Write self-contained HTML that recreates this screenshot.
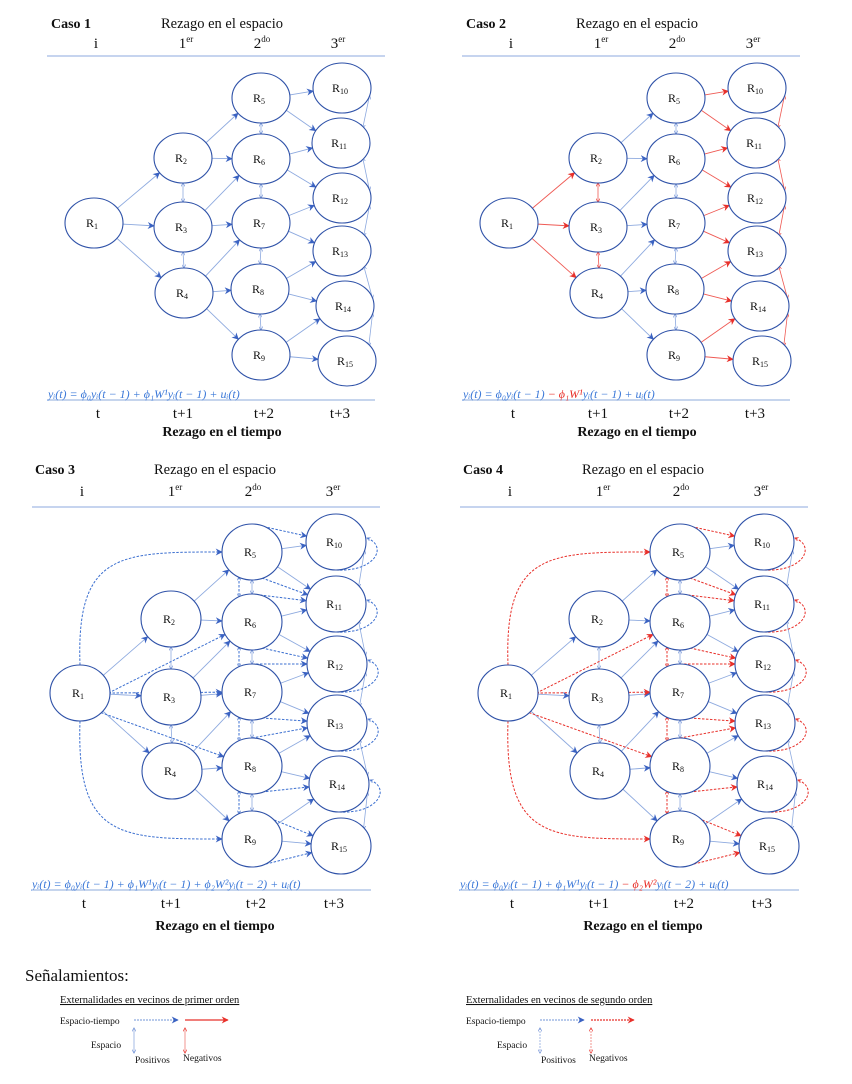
<!DOCTYPE html>
<html><head><meta charset="utf-8">
<style>
html,body{margin:0;padding:0;background:#fff;}
svg{display:block;font-family:"Liberation Serif",serif;}
</style></head>
<body>
<svg id="s" width="852" height="1084" viewBox="0 0 852 1084">
<defs>
<marker id="ab" viewBox="0 0 10 10" refX="9" refY="5" markerWidth="7" markerHeight="7" orient="auto-start-reverse" markerUnits="userSpaceOnUse"><path d="M0,0 L10,5 L0,10 L3,5 z" fill="#3a62c2"/></marker>
<marker id="ar" viewBox="0 0 10 10" refX="9" refY="5" markerWidth="7" markerHeight="7" orient="auto-start-reverse" markerUnits="userSpaceOnUse"><path d="M0,0 L10,5 L0,10 L3,5 z" fill="#e8302a"/></marker>
<marker id="abs" viewBox="0 0 10 10" refX="9" refY="5" markerWidth="4" markerHeight="4" orient="auto-start-reverse" markerUnits="userSpaceOnUse"><path d="M0,0 L10,5 L0,10" fill="none" stroke="#6f8fd6" stroke-width="1.5"/></marker>
<marker id="ars" viewBox="0 0 10 10" refX="9" refY="5" markerWidth="4" markerHeight="4" orient="auto-start-reverse" markerUnits="userSpaceOnUse"><path d="M0,0 L10,5 L0,10" fill="none" stroke="#e8302a" stroke-width="1.5"/></marker>
</defs>
<g id="root"></g>
</svg>
<script>
// node layouts (centers) for upper panels (A) and lower panels (B)
const nodesAx = [94,183,183,184,261,261,261,260,261,342,341,342,342,345,347];
const nodesAy = [223,158,227,293,98,159,223,289,355,88,143,198,251,306,361];
const nodesBx = [80,171,171,172,252,252,252,252,252,336,336,337,337,339,341];
const nodesBy = [693,619,697,771,552,622,692,766,839,542,604,664,723,784,846];
const firstOrder = [[1,2],[1,3],[1,4],[2,5],[2,6],[3,6],[3,7],[4,7],[4,8],[4,9],[5,10],[5,11],[6,11],[6,12],[7,12],[7,13],[8,13],[8,14],[9,14],[9,15]];
const spaceLinks = [[2,3],[3,4],[5,6],[6,7],[7,8],[8,9]];
const col3Links = [[10,11],[11,12],[12,13],[13,14],[14,15]];
const secondFromR1 = [6,7,8];
const secondCol2 = [[5,'t',10],[5,'b',11],[6,'t',11],[6,'b',12],[7,'t',12],[7,'b',13],[8,'t',13],[8,'b',14],[9,'t',15],[9,'b',15]];

const NS="http://www.w3.org/2000/svg";
const root=document.getElementById('root');
const BL="#4472c4", BLL="#8eaadf", RD="#e8302a";
function mk(tag,attrs,parent){const e=document.createElementNS(NS,tag);for(const k in attrs)e.setAttribute(k,attrs[k]);(parent||root).appendChild(e);return e;}
function txt(x,y,s,size,opts,parent){opts=opts||{};const t=mk('text',{x:x,y:y,'font-size':size,'text-anchor':opts.anchor||'middle',fill:opts.fill||'#111','font-weight':opts.bold?'bold':'normal','font-style':opts.italic?'italic':'normal'},parent);t.textContent=s;return t;}
function bpt(n,tx,ty){const dx=tx-n.x,dy=ty-n.y;const a=Math.atan2(dy,dx);return {x:n.x+n.rx*Math.cos(a),y:n.y+n.ry*Math.sin(a)};}

function panel(p){
  const g=mk('g',{});
  
  
  const ox=p.ox, xs=p.big?nodesBx:nodesAx, ys=p.big?nodesBy:nodesAy;
  const rx=p.big?30:29, ry=p.big?28:25;
  const N={};
  for(let i=0;i<15;i++)N[i+1]={x:xs[i]+ox,y:ys[i],rx:rx,ry:ry};
  const H=p.H;
  const t1=txt(H.caso+ox,H.ty,'Caso '+p.num,14,{bold:true,anchor:'start'},g);
  
  
  const t2=txt(H.rc+ox,H.ty,'Rezago en el espacio',14.5,{},g);
  
  
  const lab=[['i',''],['1','er'],['2','do'],['3','er']];
  lab.forEach((l,k)=>{const t=txt(H.cols[k]+ox,H.ly,l[0],15,{},g);
    if(l[1]){const s=mk('tspan',{'font-size':9,dy:-6},t);s.textContent=l[1];}
    
    });
  mk('line',{x1:H.lx1+ox,x2:H.lx2+ox,y1:H.ltop,y2:H.ltop,stroke:'#8eaadf','stroke-width':1},g);
  mk('line',{x1:H.bx1+ox,x2:H.bx2+ox,y1:H.lbot,y2:H.lbot,stroke:'#b4c7e7','stroke-width':1.5},g);
  const tl=['t','t+1','t+2','t+3'];
  tl.forEach((l,k)=>{const t=txt(H.tcols[k]+ox,H.tly,l,15,{},g);
    
    });
  const t3=txt(H.rc+ox,H.tty,'Rezago en el tiempo',14,{bold:true},g);
  
  
  const eq=mk('text',{x:H.eqx+ox,y:H.eqy,'font-size':12,'font-style':'italic',fill:'#3b78d8'},g);
  
  
  p.eq.forEach(part=>{const s=mk('tspan',{fill:part[1]?RD:'#3b78d8'},eq);s.textContent=part[0];});

  const edges=mk('g',{},g);
  firstOrder.forEach(e=>{const a=N[e[0]],b=N[e[1]];
    const red=p.redFirst&&(e[0]==1||e[0]>=5);
    const s=bpt(a,b.x,b.y),t=bpt(b,a.x,a.y);
    const l=mk('line',{x1:s.x,y1:s.y,x2:t.x,y2:t.y,stroke:red?'#ef5a54':BLL,'stroke-width':0.9,'marker-end':red?'url(#ar)':'url(#ab)'},edges);
    
    });
  spaceLinks.forEach(e=>{const a=N[e[0]],b=N[e[1]];
    const red=p.redFirst&&e[0]<5;
    const l=mk('line',{x1:a.x,y1:a.y+a.ry,x2:b.x,y2:b.y-b.ry,stroke:red?'#ef5a54':BLL,'stroke-width':0.8,'marker-start':red?'url(#ars)':'url(#abs)','marker-end':red?'url(#ars)':'url(#abs)'},edges);
    
    });
  col3Links.forEach((e,k)=>{const a=N[e[0]],b=N[e[1]];
    const red=p.redFirst;
    const x1=a.x+a.rx*(k%2?0.75:0.95),y1=a.y+a.ry*(k%2?0.6:0.3);
    const x2=b.x+b.rx*(k%2?0.95:0.75),y2=b.y-b.ry*(k%2?0.3:0.6);
    const l=mk('line',{x1:x1,y1:y1,x2:x2,y2:y2,stroke:red?'#ef5a54':BLL,'stroke-width':0.8,'marker-start':red?'url(#ars)':'url(#abs)','marker-end':red?'url(#ars)':'url(#abs)'},edges);
    
    });
  if(p.second){
    const sc=p.redSecond?RD:'#3b6fd0', sm=p.redSecond?'url(#ar)':'url(#ab)', ssm=p.redSecond?'url(#ars)':'url(#abs)';
    const da={stroke:sc,'stroke-width':1,'stroke-dasharray':'2.5,1.5',fill:'none'};
    const r1=N[1];
    [[5,-1],[9,1]].forEach(c=>{const b=N[c[0]];
      const sx=r1.x,sy=r1.y+c[1]*r1.ry,ex=b.x-b.rx,ey=b.y;
      const pth=mk('path',Object.assign({d:`M${sx},${sy} C${sx-4},${ey} ${sx+40},${ey} ${ex},${ey}`,'marker-end':sm},da),edges);
      
      });
    secondFromR1.forEach(k=>{const b=N[k];
      const s={x:r1.x+r1.rx*(k==8?0.7:0.95),y:r1.y+(k==8?r1.ry*0.7:0)};const t=bpt(b,s.x,s.y);
      const l=mk('line',Object.assign({x1:s.x,y1:s.y,x2:t.x,y2:t.y,'marker-end':sm},da),edges);
      
      });
    secondCol2.forEach(e=>{const a=N[e[0]],b=N[e[2]];
      const s={x:a.x+(e[1]=='t'?0:10),y:a.y+(e[1]=='t'?-a.ry:a.ry-2)};const t=bpt(b,s.x,s.y);
      const l=mk('line',Object.assign({x1:s.x,y1:s.y,x2:t.x,y2:t.y,'marker-end':sm},da),edges);
      
      });
    [[5,6],[6,7],[7,8],[8,9]].forEach(e=>{const a=N[e[0]],b=N[e[1]];
      const l=mk('line',Object.assign({x1:a.x-13,y1:a.y+a.ry-3,x2:b.x-13,y2:b.y-b.ry+3,'marker-start':ssm,'marker-end':ssm},da),edges);
      
      });
    [10,11,12,13,14].forEach(k=>{const a=N[k];
      const sx=a.x,sy=a.y+a.ry,ex=a.x+a.rx,ey=a.y-4;
      const pth=mk('path',Object.assign({d:`M${sx},${sy} C${sx+40},${sy+2} ${ex+22},${ey+8} ${ex+1},${ey}`,'marker-end':ssm},da),edges);
      
      });
  }
  for(let i=1;i<=15;i++){const n=N[i];
    const ng=mk('g',{},g);
    
    
    mk('ellipse',{cx:n.x,cy:n.y,rx:n.rx,ry:n.ry,fill:'#fff',stroke:'#2f52a8','stroke-width':1.1},ng);
    const t=txt(n.x-2,n.y+4,'R',12,{},ng);
    const s=mk('tspan',{'font-size':8,dy:2},t);s.textContent=String(i);
  }
}
const HA={caso:51,ty:28,rc:222,cols:[96,186,262,338],ly:48,ltop:56,lx1:47,lx2:385,lbot:400,bx1:48,bx2:375,tly:418,tcols:[98,183,264,340],tty:436,eqx:48,eqy:398};
const HB={caso:35,ty:474,rc:215,cols:[82,175,253,333],ly:496,ltop:507,lx1:32,lx2:380,lbot:890,bx1:33,bx2:371,tly:908,tcols:[84,171,256,334],tty:930,eqx:32,eqy:888};
panel({num:1,ox:0,H:HA,eq:[['yᵢ(t) = ϕ₀yᵢ(t − 1) + ϕ₁W¹yᵢ(t − 1) + uᵢ(t)',0]]});
panel({num:2,ox:415,H:HA,redFirst:true,eq:[['yᵢ(t) = ϕ₀yᵢ(t − 1) ',0],['− ϕ₁W¹',1],['yᵢ(t − 1) + uᵢ(t)',0]]});
panel({num:3,ox:0,H:HB,big:true,second:true,eq:[['yᵢ(t) = ϕ₀yᵢ(t − 1) + ϕ₁W¹yᵢ(t − 1) + ϕ₂W²yᵢ(t − 2) + uᵢ(t)',0]]});
panel({num:4,ox:428,H:HB,big:true,second:true,redSecond:true,eq:[['yᵢ(t) = ϕ₀yᵢ(t − 1) + ϕ₁W¹yᵢ(t − 1) ',0],['− ϕ₂W²',1],['yᵢ(t − 2) + uᵢ(t)',0]]});

const lg=mk('g',{});


txt(25,981,'Señalamientos:',17,{anchor:'start'},lg);
function legend(ox,title,dashed){
  const t=txt(60+ox,1003,title,10.5,{anchor:'start'},lg);
  t.setAttribute('text-decoration','underline');
  txt(60+ox,1024,'Espacio-tiempo',9.5,{anchor:'start'},lg);
  const dd=dashed?{'stroke-dasharray':'2,1'}:{};
  mk('line',{x1:134+ox,y1:1020,x2:178+ox,y2:1020,stroke:'#8eaadf','stroke-width':1.3,'stroke-dasharray':'2,1','marker-end':'url(#ab)'},lg);
  mk('line',Object.assign({x1:185+ox,y1:1020,x2:228+ox,y2:1020,stroke:RD,'stroke-width':1.2,'marker-end':'url(#ar)'},dd),lg);
  mk('line',Object.assign({x1:134+ox,y1:1028,x2:134+ox,y2:1053,stroke:'#8eaadf','stroke-width':0.8,'marker-start':'url(#abs)','marker-end':'url(#abs)'},dd),lg);
  mk('line',Object.assign({x1:185+ox,y1:1028,x2:185+ox,y2:1053,stroke:'#ef7a74','stroke-width':0.8,'marker-start':'url(#ars)','marker-end':'url(#ars)'},dd),lg);
  txt(91+ox,1048,'Espacio',9.5,{anchor:'start'},lg);
  txt(135+ox,1063,'Positivos',9.5,{anchor:'start'},lg);
  txt(183+ox,1061,'Negativos',9.5,{anchor:'start'},lg);
}
legend(0,'Externalidades en vecinos de primer orden',false);
legend(406,'Externalidades en vecinos de segundo orden',true);
</script>
</body></html>
